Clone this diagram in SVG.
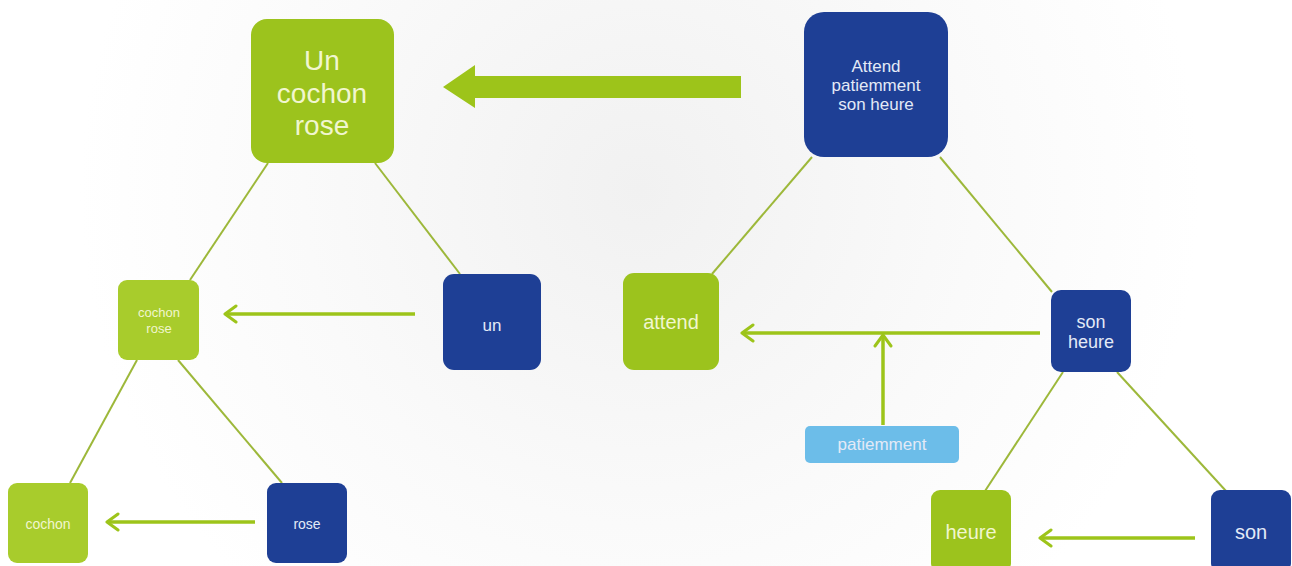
<svg xmlns="http://www.w3.org/2000/svg" width="1292" height="566" viewBox="0 0 1292 566">
<defs>
<radialGradient id="bg" cx="640" cy="190" r="560" gradientUnits="userSpaceOnUse">
<stop offset="0" stop-color="#f1f1f1"/>
<stop offset="0.6" stop-color="#fafafa"/>
<stop offset="1" stop-color="#ffffff"/>
</radialGradient>
<marker id="ah" viewBox="0 0 16 20" refX="2" refY="10" markerWidth="16" markerHeight="20" markerUnits="userSpaceOnUse" orient="auto">
<path d="M13,2 L2,10 L13,18" fill="none" stroke="#9dc41a" stroke-width="3" stroke-linecap="round" stroke-linejoin="round"/>
</marker>
<style>
.g{fill:#9cc31d}
.g2{fill:#a8cc2c}
.b{fill:#1e3f95}
.lb{fill:#6cbde9}
.tg{fill:#f1f6cf;font-family:"Liberation Sans",Arial,sans-serif;text-anchor:middle}
.tb{fill:#e3eaf7;font-family:"Liberation Sans",Arial,sans-serif;text-anchor:middle}
.link{stroke:#9db83a;stroke-width:2;fill:none}
.arr{stroke:#9dc41a;stroke-width:3.5;fill:none;marker-start:url(#ah)}
</style>
</defs>
<rect width="1292" height="566" fill="url(#bg)"/>
<g id="connectors">
<line class="link" x1="268" y1="163" x2="190" y2="280"/>
<line class="link" x1="375" y1="163" x2="460" y2="274"/>
<line class="link" x1="137" y1="360" x2="70" y2="483"/>
<line class="link" x1="178" y1="360" x2="282" y2="483"/>
<line class="link" x1="812" y1="157" x2="712" y2="274"/>
<line class="link" x1="940" y1="157" x2="1052" y2="292"/>
<line class="link" x1="1063" y1="372" x2="985" y2="491"/>
<line class="link" x1="1117" y1="372" x2="1226" y2="491"/>
<path d="M741,76 L475,76 L475,65 L443,87 L475,108 L475,98 L741,98 Z" fill="#9dc41a"/>
<line class="arr" x1="225" y1="314" x2="415" y2="314"/>
<line class="arr" x1="742" y1="333" x2="1040" y2="333"/>
<line class="arr" x1="883" y1="335" x2="883" y2="425"/>
<line class="arr" x1="107" y1="522" x2="255" y2="522"/>
<line class="arr" x1="1040" y1="538" x2="1195" y2="538"/>
</g>
<g id="n-uncochonrose">
<rect class="g" x="251" y="19" width="143" height="144" rx="16"/>
<text class="tg" font-size="28" x="322" y="70">Un</text>
<text class="tg" font-size="28" x="322" y="103">cochon</text>
<text class="tg" font-size="28" x="322" y="135">rose</text>
</g>
<g id="n-attendpatiemment">
<rect class="b" x="804" y="12" width="144" height="145" rx="20"/>
<text class="tb" font-size="17" x="876" y="72">Attend</text>
<text class="tb" font-size="17" x="876" y="91">patiemment</text>
<text class="tb" font-size="17" x="876" y="110">son heure</text>
</g>
<g id="n-cochonrose">
<rect class="g2" x="118" y="280" width="81" height="80" rx="9"/>
<text class="tg" font-size="13" x="159" y="317">cochon</text>
<text class="tg" font-size="13" x="159" y="333">rose</text>
</g>
<g id="n-un">
<rect class="b" x="443" y="274" width="98" height="96" rx="11"/>
<text class="tb" font-size="17" x="492" y="331">un</text>
</g>
<g id="n-attend">
<rect class="g" x="623" y="273" width="96" height="97" rx="11"/>
<text class="tg" font-size="20" x="671" y="329">attend</text>
</g>
<g id="n-sonheure">
<rect class="b" x="1051" y="290" width="80" height="82" rx="10"/>
<text class="tb" font-size="18" x="1091" y="328">son</text>
<text class="tb" font-size="18" x="1091" y="348">heure</text>
</g>
<g id="n-patiemment">
<rect class="lb" x="805" y="426" width="154" height="37" rx="5"/>
<text class="tb" font-size="17" x="882" y="450">patiemment</text>
</g>
<g id="n-cochon">
<rect class="g2" x="8" y="483" width="80" height="80" rx="9"/>
<text class="tg" font-size="14" x="48" y="529">cochon</text>
</g>
<g id="n-rose">
<rect class="b" x="267" y="483" width="80" height="80" rx="9"/>
<text class="tb" font-size="14" x="307" y="529">rose</text>
</g>
<g id="n-heure">
<rect class="g" x="931" y="490" width="80" height="82" rx="9"/>
<text class="tg" font-size="20" x="971" y="539">heure</text>
</g>
<g id="n-son">
<rect class="b" x="1211" y="490" width="80" height="82" rx="9"/>
<text class="tb" font-size="20" x="1251" y="539">son</text>
</g>
</svg>
